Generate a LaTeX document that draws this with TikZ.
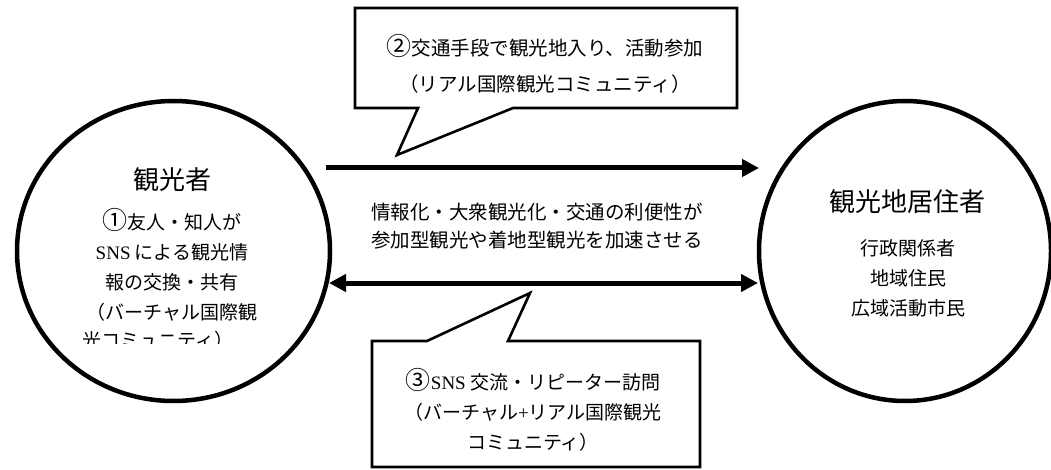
\documentclass[tikz,border=0pt]{standalone}
\usepackage{fontspec}
\setmainfont{Noto Sans CJK JP}
\newfontfamily\latinserif{Liberation Serif}
\newcommand{\circnum}[1]{{\fontsize{25}{25}\selectfont #1}}
\usetikzlibrary{arrows.meta,shapes.geometric}
\tikzset{
  actor/.style={draw, line width=4.5pt, ellipse, inner sep=0pt},
  bigarrow/.style={line width=5pt, -{Triangle[length=17pt,width=17pt]}},
  dblarrow/.style={line width=5pt, {Triangle[length=17pt,width=17pt]}-{Triangle[length=17pt,width=17pt]}},
  callout/.style={draw, line width=2.6pt, fill=white, line join=miter},
  body/.style={font=\fontsize{19}{30}\selectfont, align=center, inner sep=0pt},
  title/.style={font=\fontsize{26}{30}\selectfont, inner sep=0pt},
}
\begin{document}
\begin{tikzpicture}[x=1pt,y=-1pt]
\useasboundingbox (0,0) rectangle (1051,470);
\fill[white] (0,0) rectangle (1051,470);

% circles
\node[actor, minimum width=313pt, minimum height=300pt] (tourist) at (173.5,251) {};
\node[actor, minimum width=292pt, minimum height=300pt] (resident) at (905,251) {};

% left circle text
\node[title] (ttitle) at (172,180) {観光者};
\node[body] (tbody) at (172,265) {\circnum{①}友人・知人が\\{\latinserif SNS} による観光情\\報の交換・共有\\（バーチャル国際観};
\begin{scope}
\clip (0,0) rectangle (330,343);
\node[body, anchor=west] (tlast) at (82,340) {光コミュニティ）};
\end{scope}

% right circle text
\node[title] (rtitle) at (907,202) {観光地居住者};
\node[body] (rbody) at (908,278) {行政関係者\\地域住民\\広域活動市民};

% arrows
\coordinate (a1s) at (326,168);
\coordinate (a1e) at (759,168);
\coordinate (a2s) at (329,283);
\coordinate (a2e) at (758,283);
\draw[bigarrow] (a1s) -- (a1e);
\draw[dblarrow] (a2s) -- (a2e);

% middle text
\node[body, font=\fontsize{19.5}{28}\selectfont] (mid) at (537,226) {情報化・大衆観光化・交通の利便性が\\参加型観光や着地型観光を加速させる};

% top callout
\draw[callout] (355,8) -- (737,8) -- (737,108) -- (513,108) -- (397,155) -- (418,108) -- (355,108) -- cycle;
\node[body, font=\fontsize{19.5}{36}\selectfont] (c2) at (545,64) {\circnum{②}交通手段で観光地入り、活動参加\\（リアル国際観光コミュニティ）};

% bottom callout
\draw[callout] (372,467) -- (372,341) -- (427,341) -- (530,293) -- (508,341) -- (700,341) -- (700,467) -- cycle;
\node[body] (c3) at (533,410) {\circnum{③}{\latinserif SNS} 交流・リピーター訪問\\（バーチャル{\latinserif +}リアル国際観光\\コミュニティ）};
\end{tikzpicture}
\end{document}
